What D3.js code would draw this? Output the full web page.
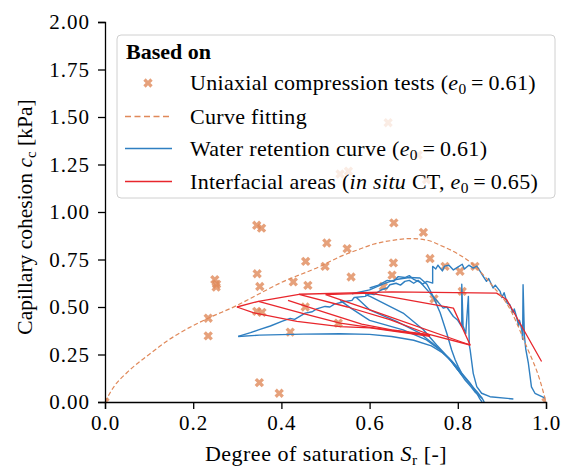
<!DOCTYPE html>
<html>
<head>
<meta charset="utf-8">
<script src="https://cdn.jsdelivr.net/npm/d3@7"></script>
<style>
  body { margin: 0; background: #fff; }
</style>
</head>
<body>
<div id="chart"></div>
<script>
// uniaxial compression tests (Sr, cc)
var uctSat = [0.642, 0.71, 0.533, 0.552, 0.729, 0.344, 0.355, 0.655, 0.722, 0.503, 0.549, 0.737, 0.455, 0.654,
              0.499, 0.771, 0.839, 0.805, 0.345, 0.651, 0.558, 0.249, 0.253, 0.252, 0.427, 0.46, 0.351, 0.631,
              0.81, 0.746, 0.454, 0.344, 0.356, 0.234, 0.529, 0.42, 0.234, 0.35, 0.395, 0.0, 1.0];
var uctCoh = [1.47, 1.30, 1.20, 1.215, 1.17, 0.93, 0.915, 0.943, 0.893, 0.837, 0.807, 0.755, 0.74, 0.732,
              0.714, 0.714, 0.714, 0.688, 0.675, 0.668, 0.658, 0.644, 0.62, 0.605, 0.632, 0.614, 0.608, 0.608,
              0.582, 0.543, 0.50, 0.477, 0.472, 0.441, 0.415, 0.368, 0.348, 0.102, 0.046, 0.0, 0.0];

// curve fitting
var fitCurve = [[0, 0], [0.02, 0.08], [0.05, 0.155], [0.10, 0.25], [0.14, 0.32], [0.19, 0.39], [0.234, 0.441],
                [0.299, 0.508], [0.35, 0.57], [0.397, 0.626], [0.488, 0.714], [0.533, 0.765], [0.578, 0.805],
                [0.608, 0.83], [0.65, 0.85], [0.692, 0.86], [0.73, 0.852], [0.76, 0.825], [0.80, 0.78],
                [0.835, 0.723], [0.88, 0.608], [0.915, 0.503], [0.956, 0.292], [0.986, 0.116], [1, 0]];

// water retention curves
var wrcMain = [[0.302,0.345],[0.33,0.365],[0.348,0.38],[0.375,0.40],[0.401,0.424],[0.42,0.44],[0.43,0.435],[0.454,0.468],
               [0.47,0.475],[0.48,0.49],[0.499,0.503],[0.51,0.50],[0.52,0.515],[0.544,0.529],[0.56,0.535],[0.565,0.55],
               [0.59,0.556],[0.60,0.57],[0.61,0.565],[0.627,0.591],[0.64,0.60],[0.646,0.617],[0.66,0.625],[0.67,0.615],
               [0.68,0.635],[0.69,0.64],[0.70,0.625],[0.71,0.64],[0.72,0.62],[0.73,0.635],[0.743,0.626],[0.743,0.714],
               [0.75,0.70],[0.755,0.72],[0.765,0.69],[0.77,0.715],[0.78,0.72],[0.79,0.695],[0.80,0.71],[0.81,0.725],
               [0.815,0.70],[0.825,0.72],[0.835,0.705],[0.843,0.715],[0.85,0.69],[0.858,0.66],[0.865,0.635],[0.87,0.65],
               [0.88,0.60],[0.885,0.615],[0.896,0.582],[0.90,0.55],[0.905,0.575],[0.912,0.52],[0.918,0.512],[0.925,0.47],
               [0.928,0.49],[0.933,0.45],[0.938,0.40],[0.94,0.43],[0.945,0.38],[0.947,0.33],[0.948,0.617],[0.951,0.35],
               [0.954,0.28],[0.96,0.204],[0.964,0.134],[0.967,0.08],[0.975,0.046],[0.998,0.02]];
var wrcLow = [[0.302,0.345],[0.35,0.352],[0.45,0.357],[0.533,0.359],[0.60,0.356],[0.65,0.345],[0.70,0.325],[0.74,0.295],
              [0.765,0.26],[0.785,0.22],[0.80,0.18],[0.815,0.13],[0.83,0.09],[0.845,0.05],[0.855,0.02],[0.86,0.0]];
var wrcB = [[0.60,0.60],[0.62,0.615],[0.64,0.64],[0.655,0.635],[0.665,0.66],[0.68,0.655],[0.69,0.665],[0.70,0.645],
            [0.715,0.63],[0.737,0.573],[0.75,0.54],[0.767,0.494],[0.775,0.50],[0.79,0.45],[0.80,0.43],[0.809,0.397],
            [0.809,0.62],[0.812,0.40],[0.818,0.36],[0.824,0.556],[0.826,0.30],[0.828,0.274],[0.835,0.151],
            [0.843,0.081],[0.854,0.046],[0.873,0.028],[0.926,0.016]];
var wrcC = [[0.56,0.57],[0.60,0.59],[0.63,0.62],[0.66,0.645],[0.69,0.655],[0.714,0.653],[0.73,0.62],[0.744,0.556],
            [0.76,0.47],[0.775,0.362],[0.786,0.274],[0.794,0.222],[0.801,0.186],[0.809,0.151],[0.828,0.099],
            [0.843,0.046],[0.85,0.016],[0.855,0]];
var wrcD = [[0.533,0.535],[0.56,0.49],[0.60,0.43],[0.676,0.38],[0.729,0.327],[0.76,0.274],[0.785,0.215],[0.80,0.17],[0.81,0.14]];
var wrcE = [[0.57,0.55],[0.60,0.485],[0.661,0.424],[0.714,0.362],[0.752,0.292],[0.78,0.23],[0.80,0.17],[0.81,0.14]];
var wrcF = [[0.59,0.565],[0.601,0.556],[0.676,0.468],[0.722,0.38],[0.752,0.30],[0.78,0.23],[0.80,0.17],[0.815,0.12],
            [0.83,0.08],[0.84,0.05],[0.855,0.02]];

// interfacial areas (in situ CT)
var iaTop = [[0.299,0.50],[0.348,0.53],[0.44,0.567],[0.65,0.58],[0.888,0.573],[0.911,0.538],[0.99,0.213]];
var iaLoop = [[0.50,0.565],[0.601,0.573],[0.79,0.494],[0.828,0.30],[0.601,0.485],[0.50,0.565]];
var iaFan1 = [[0.299,0.50],[0.336,0.47],[0.435,0.424],[0.533,0.397],[0.601,0.39],[0.737,0.345]];
var iaFan2 = [[0.348,0.53],[0.45,0.465],[0.533,0.415],[0.601,0.393],[0.737,0.35]];
var iaFan3 = [[0.415,0.535],[0.50,0.47],[0.582,0.41],[0.65,0.38],[0.737,0.354],[0.828,0.30]];
var iaFan4 = [[0.44,0.567],[0.55,0.50],[0.646,0.433],[0.737,0.354]];

var xTicks = [0.0, 0.2, 0.4, 0.6, 0.8, 1.0];
var yTicks = [0.00, 0.25, 0.50, 0.75, 1.00, 1.25, 1.50, 1.75, 2.00];

var width = 570, height = 470;
var orange = "#e0895a", blue = "#2f7fc1", red = "#e8262c";
var serif = "'Liberation Serif', 'Times New Roman', serif";

var svg = d3.select("#chart").append("svg")
    .attr("width", width).attr("height", height);

var x = d3.scaleLinear().domain([0, 1]).range([105, 546]);
var y = d3.scaleLinear().domain([0, 2]).range([402, 22]);

svg.append("clipPath").attr("id", "plotclip")
  .append("rect").attr("x", 105).attr("y", 22).attr("width", 441).attr("height", 380);

var plot = svg.append("g").attr("clip-path", "url(#plotclip)");

var line = d3.line().x(function(d) { return x(d[0]); }).y(function(d) { return y(d[1]); });

// markers first, lines over them
var xMarker = d3.symbol().type(d3.symbolCross).size(55);
plot.selectAll(".uct")
  .data(d3.range(uctSat.length))
  .enter().append("path")
  .attr("class", "uct")
  .attr("d", xMarker)
  .attr("transform", function(i) { return "translate(" + x(uctSat[i]) + "," + y(uctCoh[i]) + ") rotate(45)"; })
  .style("fill", orange)
  .style("opacity", 0.8);

[wrcLow, wrcD, wrcE, wrcF, wrcC, wrcB, wrcMain].forEach(function(c) {
  plot.append("path").attr("d", line(c))
    .style("fill", "none").style("stroke", blue).style("stroke-width", 1.4)
    .style("stroke-linejoin", "round");
});

[iaTop, iaLoop, iaFan1, iaFan2, iaFan3, iaFan4].forEach(function(c) {
  plot.append("path").attr("d", line(c))
    .style("fill", "none").style("stroke", red).style("stroke-width", 1.3)
    .style("stroke-linejoin", "round");
});

plot.append("path")
  .attr("d", d3.line().curve(d3.curveMonotoneX).x(function(d) { return x(d[0]); }).y(function(d) { return y(d[1]); })(fitCurve))
  .style("fill", "none").style("stroke", orange).style("stroke-width", 1.2)
  .style("stroke-dasharray", "4.5,2.5");

// axes
var xAxis = svg.append("g").attr("transform", "translate(0,402)")
  .call(d3.axisBottom(x).tickValues(xTicks).tickFormat(d3.format(".1f")).tickSizeOuter(0).tickSize(7).tickPadding(6));
var yAxis = svg.append("g").attr("transform", "translate(105,0)")
  .call(d3.axisLeft(y).tickValues(yTicks).tickFormat(d3.format(".2f")).tickSizeOuter(0).tickSize(7).tickPadding(8));
[xAxis, yAxis].forEach(function(a) {
  a.attr("font-family", serif).attr("font-size", 21);
  a.select(".domain").style("stroke", "#000").style("stroke-width", 1.3);
  a.selectAll(".tick line").style("stroke", "#000").style("stroke-width", 1.3);
  a.selectAll("text").style("font-family", serif).style("font-size", "21px")
    .style("letter-spacing", "1px").style("fill", "#000");
});

// rich text helper: parts are [text, kind]
function rich(sel, parts, size) {
  sel.style("font-family", serif);
  parts.forEach(function(p) {
    var t = sel.append("tspan").text(p[0]);
    if (p[1] === "i") t.style("font-style", "italic");
    if (p[1] === "sub") t.style("font-size", (size * 0.7) + "px").attr("dy", size * 0.2);
    if (p[1] === "after") t.attr("dy", -size * 0.2);
  });
}

var xl = svg.append("text").attr("x", 326).attr("y", 461).attr("text-anchor", "middle")
  .style("font-size", "22px").style("letter-spacing", "0.5px");
rich(xl, [["Degree of saturation "], ["S", "i"], ["r", "sub"], [" [-]", "after"]], 22);

var yl = svg.append("text").attr("transform", "translate(32,217) rotate(-90)").attr("text-anchor", "middle")
  .style("font-size", "21.5px");
rich(yl, [["Capillary cohesion "], ["c", "i"], ["c", "sub"], [" [kPa]", "after"]], 21.5);

// legend
var lg = svg.append("g");
lg.append("rect").attr("x", 117).attr("y", 35).attr("width", 438).attr("height", 163).attr("rx", 4)
  .style("fill", "#fff").style("fill-opacity", 0.8).style("stroke", "#d0d0d0").style("stroke-width", 1);
lg.append("text").attr("x", 126).attr("y", 59).style("font-family", serif)
  .style("font-size", "22px").style("font-weight", "bold").text("Based on");

var fs = 22;
var rows = [
  {kind: "marker", y: 83, parts: [["Uniaxial compression tests ("], ["e", "i"], ["0", "sub"], ["\u2009=\u20090.61)", "after"]]},
  {kind: "dash", y: 116.5, parts: [["Curve fitting"]]},
  {kind: "blue", y: 148.5, parts: [["Water retention curve ("], ["e", "i"], ["0", "sub"], ["\u2009=\u20090.61)", "after"]]},
  {kind: "red", y: 181.5, parts: [["Interfacial areas ("], ["in situ", "i"], [" CT, "], ["e", "i"], ["0", "sub"], ["\u2009=\u20090.65)", "after"]]}
];
rows.forEach(function(r) {
  if (r.kind === "marker") {
    lg.append("path").attr("d", xMarker).attr("transform", "translate(148," + r.y + ") rotate(45)")
      .style("fill", orange).style("opacity", 0.8);
  } else {
    lg.append("line").attr("x1", 125).attr("x2", 172).attr("y1", r.y).attr("y2", r.y)
      .style("stroke", r.kind === "dash" ? orange : (r.kind === "blue" ? blue : red))
      .style("stroke-width", 1.4)
      .style("stroke-dasharray", r.kind === "dash" ? "6,3.5" : null);
  }
  var t = lg.append("text").attr("x", 190).attr("y", r.y + 7).style("font-size", fs + "px")
    .style("letter-spacing", "0.3px");
  rich(t, r.parts, fs);
});
</script>
</body>
</html>
